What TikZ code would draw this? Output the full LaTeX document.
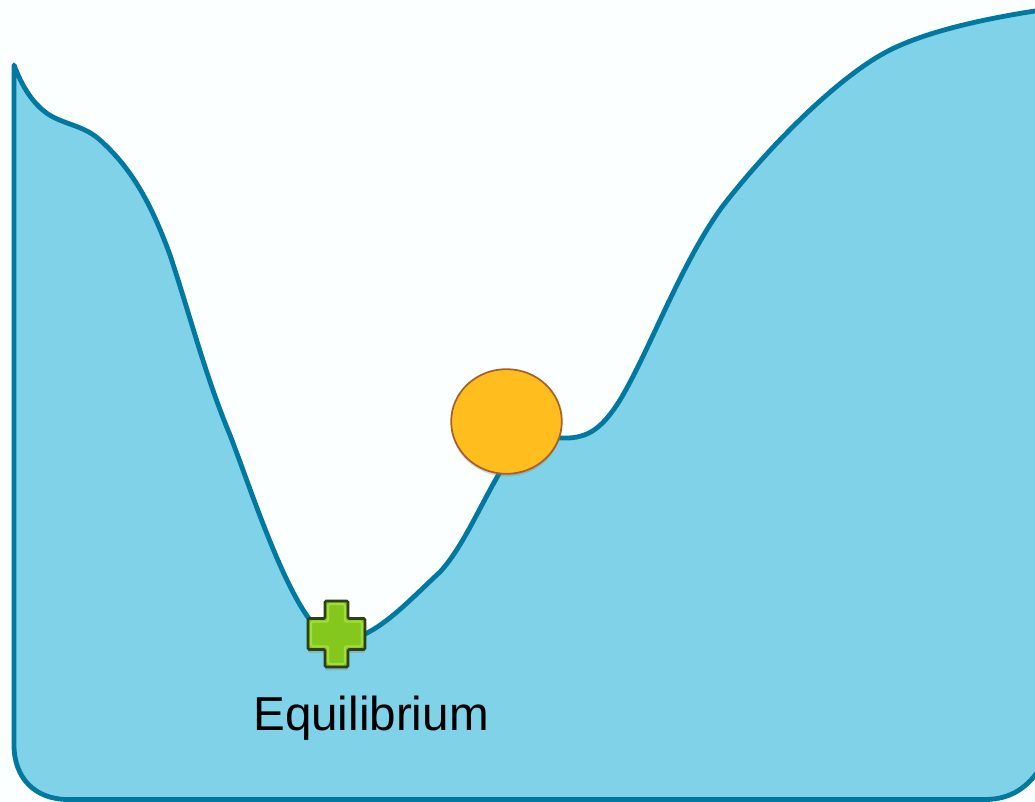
\documentclass[tikz,border=0pt]{standalone}
\usepackage{fontspec}
\setmainfont{Liberation Sans}
\usetikzlibrary{positioning,shadows,shapes.geometric}
\definecolor{Sky}{HTML}{FBFFFF}
\definecolor{Water}{HTML}{7FD2E7}
\definecolor{Rim}{HTML}{00789F}
\definecolor{Amber}{HTML}{FFBE1E}
\definecolor{AmberRim}{HTML}{A8602A}
\definecolor{AmberGlow}{HTML}{FFD452}
\definecolor{Leaf}{HTML}{84C81E}
\definecolor{LeafGlow}{HTML}{A4DC3A}
\definecolor{LeafRim}{HTML}{2F3F16}
\pgfdeclareradialshading{ballglow}{\pgfpoint{0bp}{-5bp}}{color(0bp)=(Amber);color(42bp)=(Amber);color(50bp)=(AmberGlow);color(60bp)=(AmberGlow)}
\newcommand{\plusoutline}[1]{(mark) ++(-11.5+#1,-33+#1) -- ++(23-2*#1,0) -- ++(0,17.5) -- ++(17,0) -- ++(0,31-2*#1) -- ++(-17,0) -- ++(0,17.5) -- ++(-23+2*#1,0) -- ++(0,-17.5) -- ++(-17,0) -- ++(0,-31+2*#1) -- ++(17,0) -- cycle}

\begin{document}
\begin{tikzpicture}[
  x=0.75pt,y=-0.75pt,
  landscape/.style={draw=Rim,fill=Water,line width=3.6pt,line join=round},
  ball/.style={ellipse,draw=AmberRim,line width=1.3pt,minimum width=83pt,minimum height=78.5pt,inner sep=0pt,
    shading=ballglow,drop shadow={shadow xshift=0pt,shadow yshift=-2pt,opacity=0.3}},
  plusmark/.style={draw=LeafRim,fill=Leaf,line width=2pt,rounded corners=1pt,drop shadow={shadow xshift=0pt,shadow yshift=-2.5pt,opacity=0.3}},
  caption/.style={font=\fontsize{35.7}{40}\selectfont,text=black,inner sep=0pt}
]
\useasboundingbox (0,0) rectangle (1035,802);
\fill[Sky] (0,0) rectangle (1035,802);
% landscape outline
\draw[landscape] (14,65)
  .. controls (24,92) and (38,110) .. (55,118)
  .. controls (72,126) and (85,127) .. (100,140)
  .. controls (130,167) and (150,200) .. (170,255)
  .. controls (190,315) and (205,375) .. (230,435)
  .. controls (250,487) and (280,580) .. (310,620)
  .. controls (320,632) and (345,642) .. (365,634)
  .. controls (390,622) and (415,595) .. (440,572)
  .. controls (462,548) and (478,510) .. (500,472)
  .. controls (520,450) and (540,438) .. (560,438)
  .. controls (585,439) and (600,432) .. (620,400)
  .. controls (650,350) and (680,265) .. (722,207)
  .. controls (770,145) and (840,75) .. (890,50)
  .. controls (930,30) and (990,18) .. (1035,11)
  -- (1045,11) -- (1045,760)
  .. controls (1030,788) and (1010,799.5) .. (985,799.5)
  -- (68,799.5)
  .. controls (35,799.5) and (14,778) .. (14,745) -- cycle;
\node[ball] (ball) at (506.5,421.5) {};
\coordinate (mark) at (336.5,634);
\draw[plusmark] \plusoutline{0};
\draw[LeafGlow,line width=1.5pt,rounded corners=1pt] \plusoutline{3.2};
\node[caption] (equilibrium) at (371,718.5) {Equilibrium};
\end{tikzpicture}
\end{document}
